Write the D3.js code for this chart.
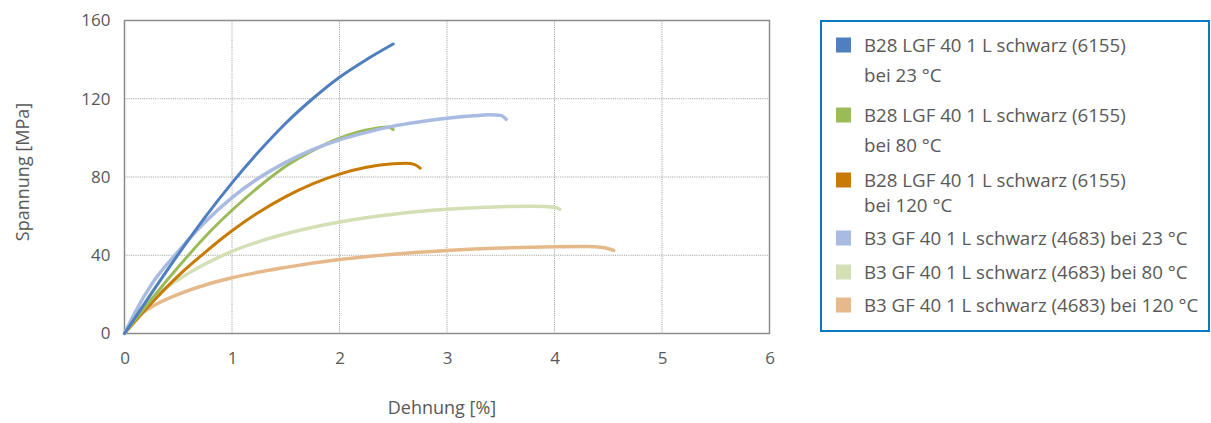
<!DOCTYPE html>
<html>
<head>
<meta charset="utf-8">
<script src="https://cdn.jsdelivr.net/npm/d3@7"></script>
<style>
  html, body { margin: 0; padding: 0; background: #fff; }
  svg { display: block; font-family: "Open Sans", "Noto Sans", sans-serif; }
</style>
</head>
<body>
<svg id="chart" width="1211" height="423"></svg>
<script>
// Stress–strain curves: [strain %, stress MPa]
const b28At23 = [[0,0],[0.25,20.5],[0.5,40.5],[0.75,59.5],[1,77],[1.25,93],[1.5,107.5],[1.75,120],[2,131],[2.25,140],[2.5,148]];
const b28At80 = [[0,0],[0.25,17.5],[0.5,34],[0.75,49.5],[1,63],[1.25,75],[1.5,85.5],[1.75,93.5],[2,99.8],[2.25,104],[2.45,105.6],[2.5,104.2]];
const b28At120 = [[0,0],[0.25,15.5],[0.5,29.5],[0.75,41.5],[1,52.5],[1.25,62],[1.5,70],[1.75,76.5],[2,81.5],[2.25,85],[2.5,86.8],[2.62,87],[2.7,86.3],[2.75,84.5]];
const b3At23 = [[0,0],[0.1,11],[0.25,25],[0.5,42],[0.75,57],[1,69.5],[1.25,79.5],[1.5,87.5],[1.75,94],[2,99],[2.25,102.8],[2.5,106],[2.75,108.2],[3,110],[3.25,111.3],[3.4,111.8],[3.5,111.5],[3.55,109.5]];
const b3At80 = [[0,0],[0.1,9],[0.25,17.5],[0.5,27.5],[0.75,35.5],[1,42],[1.25,47],[1.5,51],[2,57],[2.5,61],[3,63.5],[3.5,64.8],[3.8,65],[4,64.5],[4.05,63.5]];
const b3At120 = [[0,0],[0.1,7.5],[0.25,13.5],[0.5,20],[0.75,24.8],[1,28.5],[1.5,33.8],[2,37.8],[2.5,40.5],[3,42.4],[3.5,43.7],[4,44.4],[4.3,44.5],[4.45,44],[4.55,42.5]];

const seriesNames = [
  ["B28 LGF 40 1 L schwarz (6155)", "bei 23 °C"],
  ["B28 LGF 40 1 L schwarz (6155)", "bei 80 °C"],
  ["B28 LGF 40 1 L schwarz (6155)", "bei 120 °C"],
  ["B3 GF 40 1 L schwarz (4683) bei 23 °C"],
  ["B3 GF 40 1 L schwarz (4683) bei 80 °C"],
  ["B3 GF 40 1 L schwarz (4683) bei 120 °C"]
];
const seriesData = [b28At23, b28At80, b28At120, b3At23, b3At80, b3At120];
const seriesColors = ["#4f7fbf", "#9bbb59", "#c77b05", "#a9bbe0", "#d3e0b6", "#e6b98a"];
const seriesWidths = [3, 3, 3, 3.5, 3.5, 3.5];

const xTicks = [0, 1, 2, 3, 4, 5, 6];
const yTicks = [0, 40, 80, 120, 160];
const xTitle = "Dehnung [%]";
const yTitle = "Spannung [MPa]";

const svg = d3.select("#chart");
const plot = { left: 124.5, right: 769.5, top: 20.5, bottom: 333.5 };

const x = d3.scaleLinear().domain([0, 6]).range([plot.left, plot.right]);
const y = d3.scaleLinear().domain([0, 160]).range([plot.bottom, plot.top]);

const textColor = "#595959";

// grid lines (dotted)
const grid = svg.append("g");
grid.selectAll("line.gx").data(xTicks.slice(1, -1)).join("line")
  .attr("x1", d => x(d)).attr("x2", d => x(d))
  .attr("y1", plot.top).attr("y2", plot.bottom)
  .attr("stroke", "#999").attr("stroke-width", 1).attr("stroke-dasharray", "1,1.2");
grid.selectAll("line.gy").data(yTicks.slice(1, -1)).join("line")
  .attr("x1", plot.left).attr("x2", plot.right)
  .attr("y1", d => y(d)).attr("y2", d => y(d))
  .attr("stroke", "#999").attr("stroke-width", 1).attr("stroke-dasharray", "1,1.2");

// plot frame
svg.append("rect")
  .attr("x", plot.left).attr("y", plot.top)
  .attr("width", plot.right - plot.left).attr("height", plot.bottom - plot.top)
  .attr("fill", "none").attr("stroke", "#8c8c8c").attr("stroke-width", 1.5);

// axes via d3-axis
const xAxis = svg.append("g").attr("transform", `translate(0,${plot.bottom})`)
  .call(d3.axisBottom(x).tickValues(xTicks).tickSize(0).tickPadding(18).tickFormat(d3.format("d")));
const yAxis = svg.append("g").attr("transform", `translate(${plot.left},0)`)
  .call(d3.axisLeft(y).tickValues(yTicks).tickSize(0).tickPadding(14).tickFormat(d3.format("d")));
[xAxis, yAxis].forEach(a => {
  a.select(".domain").remove();
  a.selectAll("text").attr("fill", textColor).style("font-size", "17px")
    .style("font-family", '"Open Sans", sans-serif');
});

// axis titles
svg.append("text").attr("x", 442).attr("y", 414).attr("text-anchor", "middle")
  .attr("fill", textColor).style("font-size", "18px").text(xTitle);
svg.append("text").attr("transform", "translate(29,172) rotate(-90)").attr("text-anchor", "middle")
  .attr("fill", textColor).style("font-size", "18px").text(yTitle);

// curves
const line = d3.line().x(d => x(d[0])).y(d => y(d[1])).curve(d3.curveMonotoneX);
const drawOrder = [5, 4, 2, 1, 3, 0];
svg.append("g").selectAll("path").data(drawOrder).join("path")
  .attr("d", i => line(seriesData[i]))
  .attr("fill", "none")
  .attr("stroke", i => seriesColors[i])
  .attr("stroke-width", i => seriesWidths[i])
  .attr("stroke-linecap", "round")
  .attr("stroke-linejoin", "round");

// legend
const legend = svg.append("g");
legend.append("rect")
  .attr("x", 821).attr("y", 21).attr("width", 388).attr("height", 310)
  .attr("fill", "#fff").attr("stroke", "#0b79c2").attr("stroke-width", 2);

const legendRows = [45, 115, 180, 238, 272, 305];
const lineGap = [30, 30, 25, 0, 0, 0];
seriesNames.forEach((lines, i) => {
  const cy = legendRows[i];
  legend.append("rect").attr("x", 836).attr("y", cy - 7.5).attr("width", 15).attr("height", 15)
    .attr("fill", seriesColors[i]);
  lines.forEach((t, j) => {
    legend.append("text").attr("x", 864).attr("y", cy + j * lineGap[i])
      .attr("dy", "0.35em").attr("fill", textColor)
      .style("font-size", "18.7px").text(t);
  });
});
</script>
</body>
</html>
